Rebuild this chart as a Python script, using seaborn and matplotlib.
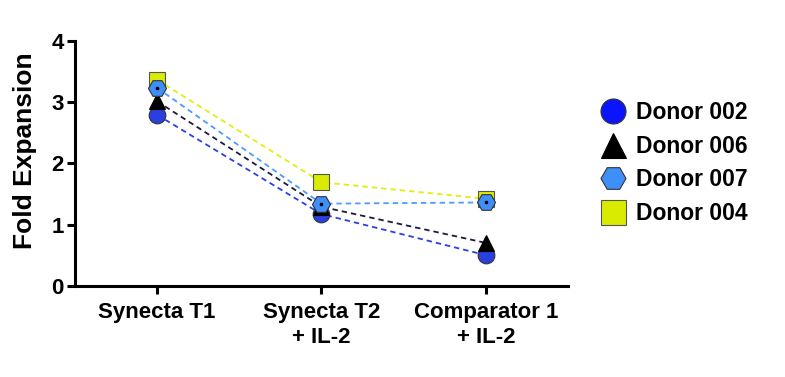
import pandas as pd
import seaborn as sns
import matplotlib.pyplot as plt
from matplotlib.lines import Line2D

# data
conditions = ['Synecta T1', 'Synecta T2\n+ IL-2', 'Comparator 1\n+ IL-2']
donors = ['Donor 002', 'Donor 006', 'Donor 007', 'Donor 004']
donor_002 = [2.79, 1.17, 0.50]
donor_006 = [3.01, 1.29, 0.70]
donor_007 = [3.23, 1.34, 1.36]
donor_004 = [3.36, 1.69, 1.42]

rows = []
for name, vals in zip(donors, [donor_002, donor_006, donor_007, donor_004]):
    for i, v in enumerate(vals):
        rows.append({'Condition': i, 'Fold Expansion': v, 'Donor': name})
df = pd.DataFrame(rows)

sns.set_theme(style='ticks')
plt.rcParams['font.family'] = ['Liberation Sans', 'DejaVu Sans']
plt.rcParams['font.weight'] = 'bold'
plt.rcParams['text.color'] = 'black'
plt.rcParams['axes.labelcolor'] = 'black'
plt.rcParams['xtick.color'] = 'black'
plt.rcParams['ytick.color'] = 'black'

line_colors = {'Donor 002': '#2a3fe6', 'Donor 006': '#1a1c3c',
               'Donor 007': '#4d9bff', 'Donor 004': '#dfef10'}
face_colors = {'Donor 002': '#2a3fe0', 'Donor 006': '#000000',
               'Donor 007': '#3f8ffa', 'Donor 004': '#d9ec00'}
leg_colors = {'Donor 002': '#0a14ff', 'Donor 006': '#000000',
              'Donor 007': '#3f8ffa', 'Donor 004': '#d9ec00'}
markers = {'Donor 002': 'o', 'Donor 006': '^', 'Donor 007': 'H', 'Donor 004': 's'}
sizes = {'Donor 002': 12, 'Donor 006': 12, 'Donor 007': 13, 'Donor 004': 12}
edges = {'Donor 002': '#333333', 'Donor 006': '#000000',
         'Donor 007': '#333333', 'Donor 004': '#555555'}

fig = plt.figure(figsize=(7.85, 3.77), dpi=100)
ax = fig.add_axes([0.0955, 0.242, 0.628, 0.65])

# dashed connecting lines
sns.lineplot(data=df, x='Condition', y='Fold Expansion', hue='Donor',
             palette=line_colors, hue_order=donors, ax=ax, legend=False,
             linewidth=1.3, zorder=2)
for ln in ax.lines:
    ln.set_dashes((3, 2.2))

# markers (square drawn first, hexagon last, as in the reference)
for k, name in enumerate(['Donor 004', 'Donor 002', 'Donor 006', 'Donor 007']):
    sub = df[df['Donor'] == name]
    ax.plot(sub['Condition'], sub['Fold Expansion'], linestyle='none',
            marker=markers[name], markersize=sizes[name],
            markerfacecolor=face_colors[name], markeredgecolor=edges[name],
            markeredgewidth=0.8, zorder=3 + k)
sub = df[df['Donor'] == 'Donor 007']
ax.plot(sub['Condition'], sub['Fold Expansion'], linestyle='none', marker='o',
        markersize=1.6, color='black', zorder=8)

ax.set_xlim(-0.5, 2.5)
ax.set_ylim(0, 4)
ax.set_yticks([0, 1, 2, 3, 4])
ax.set_xticks([0, 1, 2])
ax.set_xticklabels(conditions)
ax.set_xlabel('')
ax.set_ylabel('Fold Expansion', fontsize=19, fontweight='bold')
ax.yaxis.set_label_coords(-0.078, 0.55)
ax.tick_params(axis='both', labelsize=16, width=2.2, length=6, color='black', pad=2)
ax.tick_params(axis='x', pad=6)
for lab in ax.get_xticklabels() + ax.get_yticklabels():
    lab.set_fontweight('bold')
sns.despine(ax=ax)
for side in ['left', 'bottom']:
    ax.spines[side].set_linewidth(2.2)
    ax.spines[side].set_color('black')

handles = [Line2D([], [], linestyle='none', marker=markers[n], markersize=18,
                  markerfacecolor=leg_colors[n], markeredgecolor=edges[n],
                  markeredgewidth=0.8) for n in donors]
leg = ax.legend(handles, donors, loc='upper left', bbox_to_anchor=(1.045, 0.79),
                frameon=False, fontsize=16.5, handletextpad=0.4,
                labelspacing=0.46, handlelength=1.2, borderaxespad=0)
for t in leg.get_texts():
    t.set_fontweight('bold')

fig.savefig('out.png', dpi=100)
